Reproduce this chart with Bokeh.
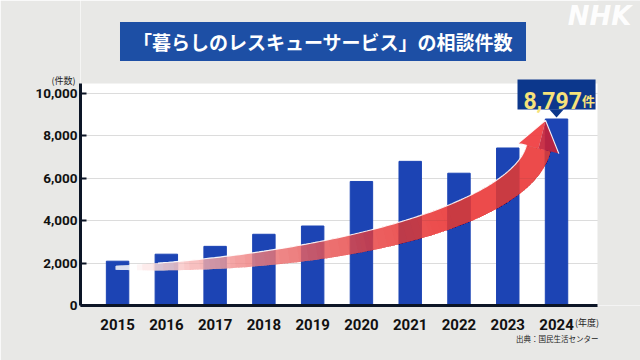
import numpy as np
from bokeh.plotting import figure
from bokeh.models import (Range1d, FixedTicker, NumeralTickFormatter, BoxAnnotation, Title,
                          Label, LinearAxis)
from bokeh.core.properties import value
from bokeh.embed import file_html
from bokeh.resources import INLINE

# ---------------- data ----------------
YEARS = [2015, 2016, 2017, 2018, 2019, 2020, 2021, 2022, 2023, 2024]
VALUES = [2090, 2420, 2790, 3360, 3750, 5850, 6800, 6240, 7430, 8797]
Y_TICKS = [0, 2000, 4000, 6000, 8000, 10000]
TITLE = "「暮らしのレスキューサービス」の相談件数"
CALLOUT_NUM = "8,797"
CALLOUT_UNIT = "件"
Y_UNIT = "(件数)"
X_UNIT = "(年度)"
SOURCE = "出典：国民生活センター"
LOGO = "NHK"

# ---------------- layout ----------------
W, H = 640, 360
ML, MB = 80, 55                      # frame spans x 80..640, y 0..305
SX = 517 / 10.6                      # px per year
SY = 228 / 10755                     # px per count
X_START = 2014.24
X_END = X_START + (W - ML) / SX
Y_END = (H - MB) / SY
PANEL_RIGHT = 2024.84
PANEL_TOP = 10472
Y_UNIT_POS = 10613                   # where the "(件数)" note sits on the y scale
X_UNIT_POS = 2024.625                # where the "(年度)" note sits on the x scale
BG = "#e8e8e6"
BAR = "#1c44b4"
AXIS = "#0c1526"
NUM_FONT = "Roboto"
JP_FONT = "Noto Sans CJK JP"

p = figure(width=W, height=H, title=None,
           x_range=Range1d(X_START, X_END), y_range=Range1d(0, Y_END),
           output_backend="svg", toolbar_location=None,
           min_border_left=ML, min_border_right=0,
           min_border_top=0, min_border_bottom=MB)
p.background_fill_color = "white"
p.border_fill_color = BG
p.outline_line_color = None

# main axes
xa = p.xaxis[0]
xa.ticker = FixedTicker(ticks=YEARS)
xa.bounds = (X_START, PANEL_RIGHT)
xa.axis_line_width = 3
xa.axis_line_color = AXIS
xa.major_tick_line_color = None
xa.minor_tick_line_color = None
xa.major_label_standoff = 7
xa.major_label_text_font = NUM_FONT
xa.major_label_text_font_style = "bold"
xa.major_label_text_font_size = "15px"
xa.major_label_text_color = "#111111"

ya = p.yaxis[0]
ya.ticker = FixedTicker(ticks=Y_TICKS)
ya.formatter = NumeralTickFormatter(format="0,0")
ya.bounds = (0, PANEL_TOP)
ya.axis_line_width = 3
ya.axis_line_color = AXIS
ya.major_tick_in = 6
ya.major_tick_out = 0
ya.major_tick_line_width = 2
ya.major_tick_line_color = AXIS
ya.minor_tick_line_color = None
ya.major_label_standoff = 3
ya.major_label_text_font = NUM_FONT
ya.major_label_text_font_style = "bold"
ya.major_label_text_font_size = "13.5px"
ya.major_label_text_color = "#111111"

# unit notes as extra, line-less axes
def note_axis(tick, label, standoff):
    ax = LinearAxis(ticker=FixedTicker(ticks=[tick]), major_label_overrides={tick: label})
    ax.axis_line_color = None
    ax.major_tick_line_color = None
    ax.minor_tick_line_color = None
    ax.major_label_standoff = standoff
    ax.major_label_text_font = JP_FONT
    ax.major_label_text_font_size = "9px"
    ax.major_label_text_color = "#222222"
    return ax

p.add_layout(note_axis(Y_UNIT_POS, Y_UNIT, -49), "left")
p.add_layout(note_axis(X_UNIT_POS, X_UNIT, -23), "below")

p.xgrid.grid_line_color = None
p.ygrid.ticker = FixedTicker(ticks=Y_TICKS[1:])
p.ygrid.grid_line_color = "#dcdcdc"
p.ygrid.grid_line_width = 1

# gray areas of the frame outside the white chart panel (drawn over the grid)
p.add_layout(BoxAnnotation(left=PANEL_RIGHT, fill_color=BG, fill_alpha=1.0,
                           line_color=None, level="underlay"))
p.add_layout(BoxAnnotation(bottom=PANEL_TOP, fill_color=BG, fill_alpha=1.0,
                           line_color=None, level="underlay"))

# source line under the axis
t_src = Title(text=SOURCE, align="right", offset=42, standoff=0, vertical_align="top",
              text_font=JP_FONT, text_font_style="normal", text_font_size="7.5px",
              text_color="#222222")
p.add_layout(t_src, "below")

# bars
p.vbar(x=YEARS, top=VALUES, width=0.46, color=BAR)

# ---------------- curved arrow ----------------
ARROW_CTRL = [(YEARS[0] - 0.04, VALUES[0] * 0.85),
              (2019.35, 1890.0),
              (2023.28, 4200.0),
              (YEARS[-1] - 0.37, 7406.0)]
P = np.array([[x * SX, y * SY] for x, y in ARROW_CTRL])
N = 120
t = np.linspace(0, 1, N + 1)[:, None]
B = ((1 - t) ** 3) * P[0] + 3 * ((1 - t) ** 2) * t * P[1] + 3 * (1 - t) * t ** 2 * P[2] + t ** 3 * P[3]
D = 3 * ((1 - t) ** 2) * (P[1] - P[0]) + 6 * (1 - t) * t * (P[2] - P[1]) + 3 * t ** 2 * (P[3] - P[2])
D = D / np.linalg.norm(D, axis=1)[:, None]
Nrm = np.column_stack([-D[:, 1], D[:, 0]])
wdt = 4 + 21 * (1 - (1 - t[:, 0]) ** 2.5)
U = B + Nrm * (wdt / 2)[:, None]
L = B - Nrm * (wdt / 2)[:, None]

def band(i0, i1):
    pts = np.vstack([U[i0:i1 + 1], L[i0:i1 + 1][::-1]])
    return list(pts[:, 0] / SX), list(pts[:, 1] / SY)

KW, KR = 25, 40
wx, wy = [], []
for j in range(KW):
    s = 0.03 + 0.45 * (j + 1) / KW
    bx, by = band(0, int(round(s * N)))
    wx.append(bx); wy.append(by)
p.patches(xs=wx, ys=wy, fill_color="white", fill_alpha=0.073, line_color=None)
rx, ry = [], []
for k in range(KR):
    r = 0.03 + 0.6 * k / KR
    bx, by = band(int(round(r * N)), N)
    rx.append(bx); ry.append(by)
p.patches(xs=rx, ys=ry, fill_color="#ee3a3e", fill_alpha=0.052, line_color=None)

d_end = D[-1]
n_end = Nrm[-1]
base = B[-1]
tip = base + 29 * d_end
bl = base + 21 * n_end
br = base - 21 * n_end
p.patch(x=[tip[0] / SX, bl[0] / SX, base[0] / SX], y=[tip[1] / SY, bl[1] / SY, base[1] / SY],
        fill_color="#ef3b3e", fill_alpha=0.92, line_color=None)
p.patch(x=[tip[0] / SX, base[0] / SX, br[0] / SX], y=[tip[1] / SY, base[1] / SY, br[1] / SY],
        fill_color="#c3223a", fill_alpha=0.92, line_color=None)
k0 = 8
p.line(x=list(U[k0:, 0] / SX) + [bl[0] / SX, tip[0] / SX, br[0] / SX],
       y=list(U[k0:, 1] / SY) + [bl[1] / SY, tip[1] / SY, br[1] / SY],
       line_color="white", line_width=1.2, line_alpha=0.9)

# ---------------- callout ----------------
LAST = VALUES[-1]
LX = YEARS[-1]
p.quad(left=[LX - 0.8], right=[LX + 0.8], bottom=[LAST + 450], top=[LAST + 1860],
       fill_color="#0c378c", line_color=None)
p.patch(x=[LX - 0.15, LX + 0.15, LX], y=[LAST + 460, LAST + 460, LAST + 70],
        fill_color="#0c378c", line_color=None)
p.text(x=[LX - 0.08], y=[LAST + 870], text=[CALLOUT_NUM], text_font=value("Roboto"),
       text_font_style="bold", text_font_size="23px", text_color="#f6e27a",
       text_align="center", text_baseline="alphabetic")
p.text(x=[LX + 0.52], y=[LAST + 870], text=[CALLOUT_UNIT], text_font=value(JP_FONT),
       text_font_style="bold", text_font_size="13px", text_color="#f6e27a",
       text_align="left", text_baseline="alphabetic")

# ---------------- banner title and logo (inside the frame) ----------------
def fx(px):
    return px - ML

def fy(py):
    return (H - MB) - py

p.add_layout(Label(x=fx(322.5), y=fy(41), x_units="screen", y_units="screen", text=TITLE,
                   text_font=JP_FONT, text_font_style="bold", text_font_size="19px",
                   text_color="white", text_align="center", text_baseline="middle",
                   background_fill_color="#1d4fa5", padding=(13, 6)))
p.add_layout(Label(x=fx(631), y=fy(15), x_units="screen", y_units="screen", text=LOGO,
                   text_font="DejaVu Sans", text_font_style="bold italic",
                   text_font_size="26px", text_color="white", text_alpha=0.95,
                   text_align="right", text_baseline="middle"))

open("out.html", "w").write(file_html(p, INLINE))
